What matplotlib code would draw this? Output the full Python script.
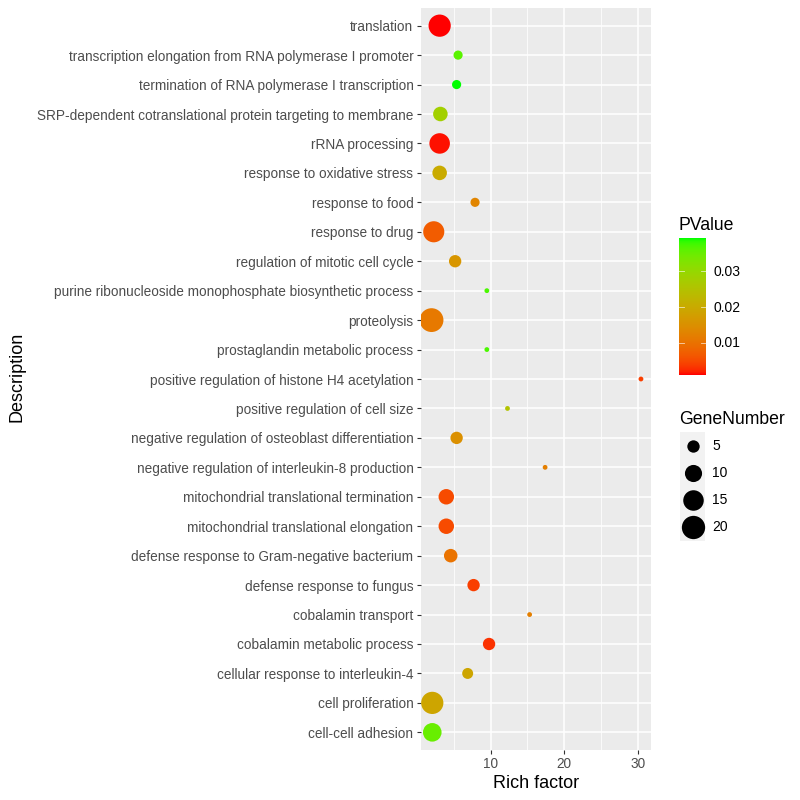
import numpy as np
import matplotlib
matplotlib.use('Agg')
import matplotlib.pyplot as plt
from matplotlib.colors import ListedColormap, Normalize
from matplotlib.patches import Rectangle

plt.rcParams['font.family'] = ['Liberation Sans', 'DejaVu Sans']

# ---- data (listed bottom -> top) ----
descriptions = [
    "cell-cell adhesion",
    "cell proliferation",
    "cellular response to interleukin-4",
    "cobalamin metabolic process",
    "cobalamin transport",
    "defense response to fungus",
    "defense response to Gram-negative bacterium",
    "mitochondrial translational elongation",
    "mitochondrial translational termination",
    "negative regulation of interleukin-8 production",
    "negative regulation of osteoblast differentiation",
    "positive regulation of cell size",
    "positive regulation of histone H4 acetylation",
    "prostaglandin metabolic process",
    "proteolysis",
    "purine ribonucleoside monophosphate biosynthetic process",
    "regulation of mitotic cell cycle",
    "response to drug",
    "response to food",
    "response to oxidative stress",
    "rRNA processing",
    "SRP-dependent cotranslational protein targeting to membrane",
    "termination of RNA polymerase I transcription",
    "transcription elongation from RNA polymerase I promoter",
    "translation",
]
rich_factor = [2.1, 2.1, 6.9, 9.8, 15.3, 7.7, 4.6, 4.0, 4.0, 17.4, 5.4, 12.3,
               30.4, 9.5, 2.0, 9.5, 5.2, 2.3, 7.9, 3.1, 3.1, 3.2, 5.4, 5.6, 3.1]
pvalue = [0.035, 0.019, 0.019, 0.003, 0.012, 0.004, 0.010, 0.005, 0.005, 0.012,
          0.015, 0.025, 0.004, 0.037, 0.011, 0.037, 0.016, 0.007, 0.013, 0.020,
          0.0015, 0.028, 0.039, 0.036, 0.0011]
gene_number = [12, 18, 4, 5, 2, 5, 6, 8, 8, 2, 5, 2, 2, 2, 21, 2, 5, 16, 3, 7,
               15, 7, 3, 3, 18]

pv_ticks = [0.01, 0.02, 0.03]
size_breaks = [5, 10, 15, 20]
x_ticks = [10, 20, 30]


# ---- Lab interpolation (like ggplot's scale_colour_gradient) ----
def srgb_to_lab(rgb):
    rgb = np.asarray(rgb, float)
    lin = np.where(rgb <= 0.04045, rgb / 12.92, ((rgb + 0.055) / 1.055) ** 2.4)
    M = np.array([[0.4124, 0.3576, 0.1805],
                  [0.2126, 0.7152, 0.0722],
                  [0.0193, 0.1192, 0.9505]])
    xyz = lin @ M.T
    wp = np.array([0.95047, 1.0, 1.08883])
    t = xyz / wp
    f = np.where(t > (6 / 29) ** 3, np.cbrt(t), t / (3 * (6 / 29) ** 2) + 4 / 29)
    L = 116 * f[..., 1] - 16
    a = 500 * (f[..., 0] - f[..., 1])
    b = 200 * (f[..., 1] - f[..., 2])
    return np.stack([L, a, b], -1)


def lab_to_srgb(lab):
    L, a, b = lab[..., 0], lab[..., 1], lab[..., 2]
    fy = (L + 16) / 116
    fx = fy + a / 500
    fz = fy - b / 200
    d = 6 / 29

    def finv(f):
        return np.where(f > d, f ** 3, 3 * d * d * (f - 4 / 29))
    wp = np.array([0.95047, 1.0, 1.08883])
    xyz = np.stack([finv(fx), finv(fy), finv(fz)], -1) * wp
    Minv = np.array([[3.2406, -1.5372, -0.4986],
                     [-0.9689, 1.8758, 0.0415],
                     [0.0557, -0.2040, 1.0570]])
    lin = xyz @ Minv.T
    lin = np.clip(lin, 0, 1)
    rgb = np.where(lin <= 0.0031308, 12.92 * lin, 1.055 * lin ** (1 / 2.4) - 0.055)
    return np.clip(rgb, 0, 1)


lab_lo = srgb_to_lab([1.0, 0.0, 0.0])
lab_hi = srgb_to_lab([0.0, 1.0, 0.0])
tt = np.linspace(0, 1, 256)[:, None]
cmap = ListedColormap(lab_to_srgb(lab_lo * (1 - tt) + lab_hi * tt))
norm = Normalize(min(pvalue), max(pvalue))

# ---- size mapping (ggplot area scale, range 1..6 mm) ----
gmin, gmax = min(gene_number), max(gene_number)


def size_pts2(v):
    v = np.asarray(v, float)
    dmm = 1 + 5 * np.sqrt(np.clip((v - gmin) / (gmax - gmin), 0, 1))
    dpx = 1.0 + 3.8 * dmm
    dpt = dpx * 72 / 100
    return dpt ** 2


fig = plt.figure(figsize=(8, 8), dpi=100)
W = H = 800.0
ax = fig.add_axes([420.7 / W, 1 - 750 / H, 230 / W, 742 / H])
ax.set_facecolor('#EBEBEB')
for s in ax.spines.values():
    s.set_visible(False)

y = np.arange(len(descriptions))
ax.scatter(rich_factor, y, s=size_pts2(gene_number), c=pvalue, cmap=cmap,
           norm=norm, linewidths=0, zorder=3)

rng = max(rich_factor) - min(rich_factor)
ax.set_xlim(min(rich_factor) - 0.05 * rng - 0.05, max(rich_factor) + 0.05 * rng - 0.1)
ax.set_ylim(-0.6, len(descriptions) - 1 + 0.6)
ax.set_yticks(y)
ax.set_yticklabels(descriptions)
ax.set_xticks(x_ticks)
ax.set_xticks([5, 15, 25], minor=True)
ax.grid(which='major', color='white', linewidth=1.1, zorder=0)
ax.grid(which='minor', axis='x', color='white', linewidth=0.55, zorder=0)
ax.set_axisbelow(True)
ax.tick_params(which='major', length=2.75, width=0.8, color='#333333',
               labelsize=9.85, labelcolor='#4D4D4D', pad=2.5)
ax.tick_params(which='minor', length=0)

fig.text(536 / W, 1 - 783 / H, 'Rich factor', fontsize=13, ha='center', va='center')
fig.text(17 / W, 1 - 377 / H, 'Description', fontsize=13, ha='center', va='center',
         rotation=90)

# ---- colour bar legend ----
fig.text(679 / W, 1 - 225 / H, 'PValue', fontsize=12.7, va='center', ha='left')
cax = fig.add_axes([679 / W, 1 - 375 / H, 27 / W, 137 / H])
grad = np.linspace(norm.vmin, norm.vmax, 200)[:, None]
cax.imshow(grad, aspect='auto', cmap=cmap, norm=norm, origin='lower',
           extent=[0, 1, norm.vmin, norm.vmax])
cax.set_xlim(0, 1)
cax.set_ylim(norm.vmin, norm.vmax)
for s in cax.spines.values():
    s.set_visible(False)
cax.set_xticks([])
cax.set_yticks([])
for v in pv_ticks:
    cax.plot([0, 0.2], [v, v], color='white', lw=0.6, alpha=0.7)
    cax.plot([0.8, 1], [v, v], color='white', lw=0.6, alpha=0.7)
    fig.text(713 / W, 1 - (343.3 - (v - 0.01) / 0.01 * 35.8) / H, f'{v:.2f}',
             fontsize=10, color='black', va='center', ha='left')

# ---- size legend ----
fig.text(679 / W, 1 - 419 / H, 'GeneNumber', fontsize=12.7, va='center', ha='left')
key_h = 27.2
lax = fig.add_axes([680 / W, 1 - (527.3 + key_h / 2) / H, 25 / W, 4 * key_h / H])
lax.set_xlim(0, 1)
lax.set_ylim(0, 4)
lax.axis('off')
for i, v in enumerate(size_breaks):
    yy = 3 - i + 0.5
    lax.add_patch(Rectangle((0.0, yy - 0.5), 1.0, 1.0, facecolor='#F2F2F2',
                            edgecolor='none', zorder=1))
    lax.scatter([0.5], [yy], s=size_pts2(v), color='black', linewidths=0, zorder=3)
    fig.text(712 / W, 1 - (445.7 + i * key_h) / H, str(v), fontsize=10,
             va='center', ha='left')

fig.savefig('out.png', dpi=100)
